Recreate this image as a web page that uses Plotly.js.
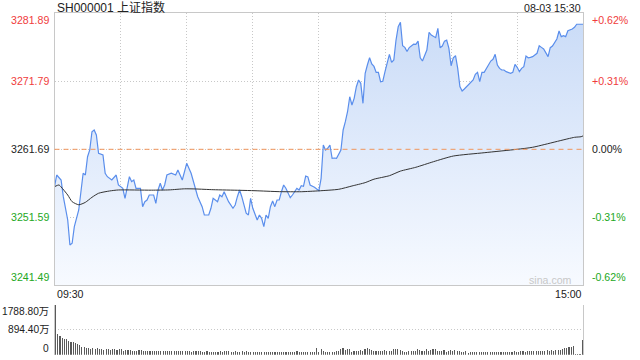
<!DOCTYPE html>
<html><head><meta charset="utf-8">
<script src="https://cdn.plot.ly/plotly-3.0.1.min.js"></script>
<style>html,body{margin:0;padding:0;background:#fff}#c{width:640px;height:360px}</style>
</head><body><div id="c"></div>
<script>
// ---- data ----
const basePrice = 3261.69;
const priceTicks = [3281.89, 3271.79, 3261.69, 3251.59, 3241.49];
const volTicks = [1788.80, 894.40, 0];
const timeLabels = ['09:30', '15:00'];
const titleText = 'SH000001 上证指数';
const dateText = '08-03 15:30';

const priceMin = [0,1,3,4,6,7,8,9,11,12,13,14,15,16,17,18,19,20,22,23,24,26,28,29,31,32,34,35,36,37,39,40,41,42,43,45,46,47,48,49,50,51,53,55,56,58,60,62,64,65,67,68,70,71,72,74,75,76,77,79,81,82,83,84,85,86,87,88,89,90,91,92,93,94,95,96,97,98,99,100,101,102,103,104,105,107,108,110,111,112,113,114,115,116,118,119,120,
121,122,123,124,125,126,127,128,130,131,132,133,134,135,136,137,138,139,140,141,142,143,144,145,146,147,148,149,150,151,152,153,154,155,156,157,158,159,160,161,163,164,165,166,167,169,170,171,173,174,175,176,177,178,179,180,181,182,183,184,185,186,188,189,190,191,192,193,194,195,196,197,198,199,200,201,202,203,204,205,207,208,209,210,211,212,213,214,215,216,217,219,220,221,222,224,225,226,227,228,229,230,231,232,233,234,235,236,237,238,240];
const priceVal = [3256.14,3257.87,3257.13,3254.65,3251.19,3247.48,3247.73,3250.20,3252.68,3255.16,3258.13,3257.87,3260.59,3261.59,3264.30,3264.56,3263.81,3261.10,3260.84,3258.13,3257.62,3257.13,3257.87,3256.39,3255.90,3254.41,3257.62,3256.88,3257.13,3255.90,3255.90,3253.17,3253.91,3254.16,3254.90,3254.90,3253.67,3255.65,3256.64,3255.65,3256.39,3257.87,3258.13,3257.87,3258.62,3257.13,3259.61,3258.13,3255.65,3254.65,3253.17,3251.93,3251.93,3252.93,3254.41,3253.91,3254.90,3254.65,3255.39,3253.91,3252.93,3253.42,3254.65,3255.65,3254.65,3253.42,3252.19,3251.93,3254.41,3252.93,3252.19,3251.19,3251.93,3251.44,3250.20,3251.93,3251.44,3253.17,3254.01,3253.17,3254.16,3254.16,3255.39,3256.39,3255.90,3254.50,3254.90,3255.90,3255.65,3256.29,3256.20,3257.72,3257.60,3256.39,3256.05,3255.80,3255.54,
3257.38,3262.33,3261.59,3261.84,3262.33,3260.35,3260.40,3260.35,3261.59,3264.56,3265.79,3267.27,3269.50,3268.27,3269.26,3270.99,3271.98,3271.49,3268.52,3272.98,3274.21,3275.29,3274.36,3274.00,3273.12,3273.12,3271.73,3271.80,3273.22,3274.46,3275.80,3274.60,3274.95,3277.92,3279.90,3280.55,3277.07,3276.83,3276.22,3276.80,3277.30,3277.27,3277.76,3275.29,3274.80,3276.44,3279.06,3278.66,3278.27,3279.66,3276.78,3277.03,3277.76,3277.91,3276.69,3274.10,3275.29,3275.59,3273.71,3271.00,3270.35,3270.65,3271.35,3271.73,3271.98,3272.83,3273.12,3271.73,3273.12,3273.12,3273.71,3274.31,3274.80,3275.05,3275.80,3274.21,3273.71,3273.47,3273.47,3273.22,3272.97,3273.12,3274.31,3273.87,3273.22,3273.71,3273.96,3275.55,3275.29,3275.35,3275.45,3275.95,3277.07,3276.83,3276.59,3275.45,3276.78,3277.03,3277.67,3278.07,3279.26,3278.42,3278.57,3278.42,3279.31,3279.41,3279.56,3279.81,3280.26,3280.26,3280.26];

const avgMin = [0,2,3,6,8,11,14,17,20,25,29,44,52,59,64,72,84,91,102,112,120,129,135,141,145,152,157,164,172,181,195,210,217,236,239,240];
const avgVal = [3256.14,3256.39,3256.10,3254.90,3253.91,3253.45,3253.81,3254.56,3255.16,3255.50,3255.65,3255.62,3255.66,3255.82,3255.80,3255.69,3255.60,3255.54,3255.40,3255.39,3255.52,3255.75,3256.24,3256.74,3257.25,3257.77,3258.45,3259.02,3259.85,3260.69,3261.18,3261.69,3261.99,3263.47,3263.56,3263.70];

const volume = [1788.8,752,660,600,575,575,480,455,440,420,
380,360,275,275,240,240,215,240,210,240,
215,200,180,210,205,185,210,200,175,190,
200,150,180,180,180,145,145,150,165,160,
140,140,140,140,145,140,120,145,145,130,
145,145,120,145,140,145,120,150,130,120,
145,120,105,150,140,140,120,95,110,120,
85,100,110,85,100,120,90,130,130,120,
100,85,120,110,90,120,100,120,90,85,
100,110,85,80,90,100,80,80,80,80,
85,95,85,110,80,80,95,80,90,90,
120,85,90,90,90,100,85,95,110,230,
100,215,150,95,85,85,90,110,120,145,
215,250,180,200,200,110,145,150,150,180,
120,215,235,200,170,145,150,140,150,150,
170,130,150,145,200,215,210,175,140,110,
110,130,150,120,145,210,180,145,140,215,
130,180,190,215,150,130,150,180,90,150,
180,120,180,130,120,110,100,130,75,90,
110,100,110,95,110,110,100,110,110,100,
110,95,110,110,100,110,110,95,110,120,
110,100,130,130,110,130,125,130,130,140,
120,130,150,150,160,145,155,145,170,160,
180,190,230,250,260,265,320,15,10,10,
526];
const volMin = volume.map((v, i) => i);

// ---- styling ----
const RED = '#f03c3c', GREEN = '#23a823', BLACK = '#222';
const FONT = 'Liberation Sans, Arial, Noto Sans CJK SC, sans-serif';
const FS = 10.6;
const X0 = 54.5 / 640, X1 = 583.3 / 640;
const py = p => 1 - p / 360;
const colorFor = v => v > basePrice + 1e-6 ? RED : (v < basePrice - 1e-6 ? GREEN : BLACK);
const pct = v => { const d = (v - basePrice) / basePrice * 100; const s = d.toFixed(2); return (d > 0.0001 ? '+' : '') + (Math.abs(d) < 0.005 ? '0.00' : s) + '%'; };

const traces = [
  {x: priceMin, y: priceVal, type: 'scatter', mode: 'lines', xaxis: 'x', yaxis: 'y',
   line: {color: '#5a8eec', width: 1.2}, fill: 'tozeroy',
   fillgradient: {type: 'vertical', start: priceTicks[4], stop: priceTicks[0],
     colorscale: [[0, 'rgb(247,250,255)'], [1, 'rgb(201,219,247)']]},
   hoverinfo: 'skip'},
  {x: avgMin, y: avgVal, type: 'scatter', mode: 'lines', xaxis: 'x', yaxis: 'y',
   line: {color: '#333', width: 1, shape: 'spline', smoothing: 0.6}, hoverinfo: 'skip'},
  {x: volMin, y: volume, type: 'bar', xaxis: 'x2', yaxis: 'y2', width: 0.5,
   marker: {color: '#5a5a5a', line: {width: 0}}, hoverinfo: 'skip'}
];

const annotations = [];
priceTicks.forEach((v, k) => {
  const shift = k === 0 ? -7 : (k === priceTicks.length - 1 ? 8 : 0);
  annotations.push({xref: 'paper', yref: 'y', x: 51 / 640, y: v, yshift: shift, xanchor: 'right', yanchor: 'middle',
    text: v.toFixed(2), showarrow: false, font: {family: FONT, size: FS, color: colorFor(v)}});
  annotations.push({xref: 'paper', yref: 'y', x: 590 / 640, y: v, yshift: shift, xanchor: 'left', yanchor: 'middle',
    text: pct(v), showarrow: false, font: {family: FONT, size: FS, color: colorFor(v)}});
});
volTicks.forEach((v, k) => {
  const shift = k === 0 ? -7 : (k === volTicks.length - 1 ? 6 : 0);
  annotations.push({xref: 'paper', yref: 'y2', x: 51 / 640, y: v, yshift: shift, xanchor: 'right', yanchor: 'middle',
    text: v === 0 ? '0' : v.toFixed(2) + '万', showarrow: false, font: {family: FONT, size: 10.2, color: BLACK}});
});
annotations.push({xref: 'paper', yref: 'paper', x: 55 / 640, y: py(7.5), xanchor: 'left', yanchor: 'middle',
  text: titleText, showarrow: false, font: {family: FONT, size: 12, color: BLACK}});
annotations.push({xref: 'paper', yref: 'paper', x: 583 / 640, y: py(7.5), xanchor: 'right', yanchor: 'middle',
  text: dateText, showarrow: false, font: {family: FONT, size: FS, color: BLACK}});
annotations.push({xref: 'paper', yref: 'paper', x: 55 / 640, y: py(294), xanchor: 'left', yanchor: 'middle',
  text: timeLabels[0], showarrow: false, font: {family: FONT, size: FS, color: BLACK}});
annotations.push({xref: 'paper', yref: 'paper', x: 584 / 640, y: py(294), xanchor: 'right', yanchor: 'middle',
  text: timeLabels[1], showarrow: false, font: {family: FONT, size: FS, color: BLACK}});
annotations.push({xref: 'paper', yref: 'paper', x: 574 / 640, y: py(280), xanchor: 'right', yanchor: 'middle',
  text: 'sina.com', showarrow: false, font: {family: FONT, size: FS, color: '#c8c8c8'}});

const layout = {
  width: 640, height: 360, margin: {l: 0, r: 0, t: 0, b: 0}, showlegend: false,
  paper_bgcolor: '#fff', plot_bgcolor: 'rgba(0,0,0,0)',
  xaxis: {domain: [X0, X1], range: [0, 240], anchor: 'y', tickvals: [30, 60, 90, 120, 150, 180, 210],
    showticklabels: false, ticks: '', showgrid: true, gridcolor: '#c8c8c8', griddash: '1px,2px', gridwidth: 1,
    showline: true, mirror: true, linecolor: '#c8c8c8', linewidth: 1, zeroline: false, fixedrange: true},
  yaxis: {domain: [py(285.3), py(13.3)], range: [priceTicks[4], priceTicks[0]], anchor: 'x',
    tickvals: [priceTicks[1], priceTicks[2], priceTicks[3]], showticklabels: false, ticks: '',
    showgrid: true, gridcolor: '#c8c8c8', griddash: '1px,2px', gridwidth: 1,
    showline: true, mirror: true, linecolor: '#c8c8c8', linewidth: 1, zeroline: false, fixedrange: true},
  xaxis2: {domain: [X0, X1], range: [-0.5, 240.5], anchor: 'y2', showticklabels: false, ticks: '',
    showgrid: false, showline: false, zeroline: false, fixedrange: true},
  yaxis2: {domain: [py(354.7), py(304.7)], range: [0, volTicks[0]], anchor: 'x2',
    tickvals: [volTicks[1], volTicks[0]], showticklabels: false, ticks: '',
    showgrid: true, gridcolor: '#c8c8c8', griddash: '1px,2px', gridwidth: 1,
    showline: true, mirror: true, linecolor: '#c8c8c8', linewidth: 1, zeroline: false, fixedrange: true},
  bargap: 0,
  shapes: [
    {type: 'line', xref: 'paper', yref: 'y', x0: X0, x1: X1, y0: basePrice, y1: basePrice,
     line: {color: '#f0955c', width: 1, dash: '5px,4px'}, layer: 'above'}
  ],
  annotations: annotations
};

Plotly.newPlot('c', traces, layout, {staticPlot: true, displayModeBar: false});
</script>
</body></html>
